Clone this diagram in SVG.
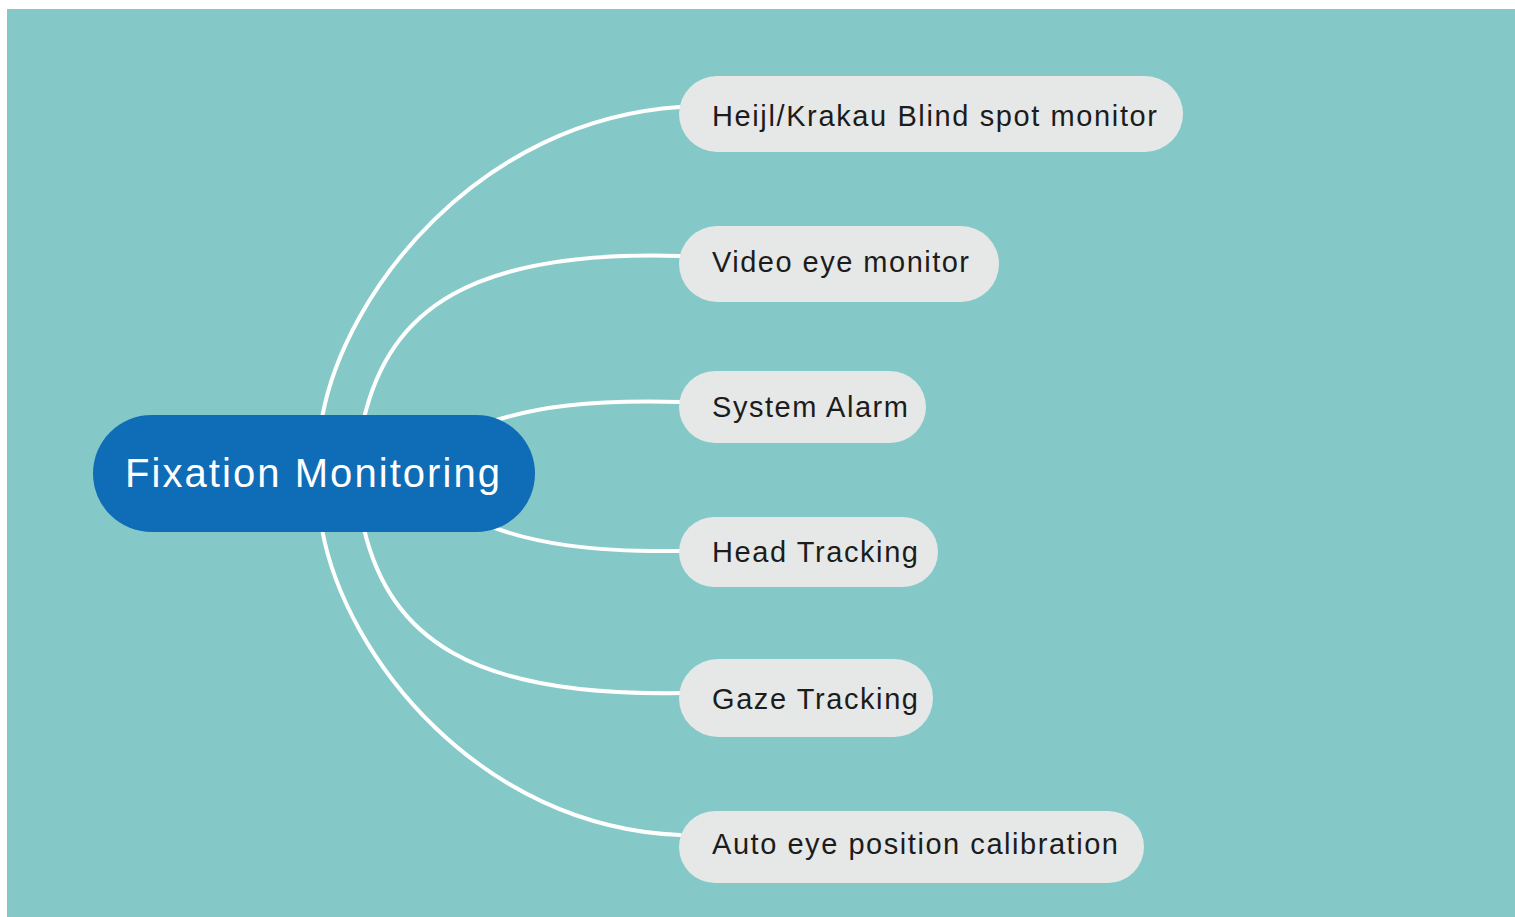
<svg xmlns="http://www.w3.org/2000/svg" width="1515" height="917" viewBox="0 0 1515 917">
<style>
.bg{fill:#84C9C8}
.conn{fill:none;stroke:#FFFFFF;stroke-width:4;stroke-linecap:round}
.leaf{fill:#E6E8E7}
.leaft{font-family:"Liberation Sans",Arial,sans-serif;font-size:29px;fill:#1C1C1C}
.root{fill:#0F6DB7}
.roott{font-family:"Liberation Sans",Arial,sans-serif;font-size:40px;fill:#FFFFFF}
</style>
<rect x="0" y="0" width="1515" height="917" fill="#FFFFFF"/>
<rect class="bg" x="7" y="9" width="1508" height="908"/>
<g id="connectors">
<path class="conn" d="M 322 418 C 345 290, 480 120, 680 107"/>
<path class="conn" d="M 364 418 C 390 310, 470 250, 680 256"/>
<path class="conn" d="M 470 430 C 530 404, 600 400, 680 402"/>
<path class="conn" d="M 470 518 C 530 546, 600 552, 680 551"/>
<path class="conn" d="M 364 529 C 390 637, 470 697, 680 693"/>
<path class="conn" d="M 322 529 C 345 657, 480 827, 680 835"/>
</g>
<g id="node-root">
<rect class="root" x="93" y="415" width="442" height="117" rx="58.5"/>
<text class="roott" x="125" y="487" textLength="375" lengthAdjust="spacing">Fixation Monitoring</text>
</g>
<g id="node-heijl">
<rect class="leaf" x="679" y="76" width="504" height="76" rx="38"/>
<text class="leaft" x="712" y="126" textLength="445" lengthAdjust="spacing">Heijl/Krakau Blind spot monitor</text>
</g>
<g id="node-video">
<rect class="leaf" x="679" y="226" width="320" height="76" rx="38"/>
<text class="leaft" x="712" y="272" textLength="257" lengthAdjust="spacing">Video eye monitor</text>
</g>
<g id="node-system">
<rect class="leaf" x="679" y="371" width="247" height="72" rx="36"/>
<text class="leaft" x="712" y="417" textLength="196" lengthAdjust="spacing">System Alarm</text>
</g>
<g id="node-head">
<rect class="leaf" x="679" y="517" width="259" height="70" rx="35"/>
<text class="leaft" x="712" y="562" textLength="206" lengthAdjust="spacing">Head Tracking</text>
</g>
<g id="node-gaze">
<rect class="leaf" x="679" y="659" width="254" height="78" rx="39"/>
<text class="leaft" x="712" y="709" textLength="206" lengthAdjust="spacing">Gaze Tracking</text>
</g>
<g id="node-auto">
<rect class="leaf" x="679" y="811" width="465" height="72" rx="36"/>
<text class="leaft" x="712" y="854" textLength="406" lengthAdjust="spacing">Auto eye position calibration</text>
</g>
</svg>
